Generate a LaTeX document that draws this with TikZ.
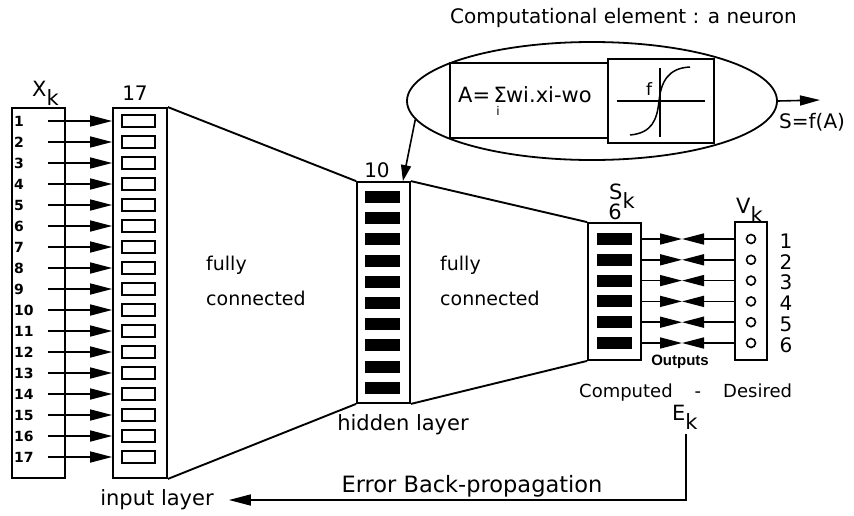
\documentclass[tikz,border=0pt]{standalone}
\usepackage{fontspec}
\setmainfont{DejaVu Sans}
\newfontfamily\narrowbold{Liberation Sans}
\usetikzlibrary{shapes.geometric, arrows.meta, positioning}
\tikzset{
  layer/.style={
    draw, rectangle, inner sep=0pt,
    line width=1.8pt
  },
  opencell/.style={
    draw, rectangle, inner sep=0pt,
    minimum width=33pt, minimum height=12pt,
    line width=1.5pt
  },
  solidcell/.style={
    fill=black, rectangle, inner sep=0pt,
    minimum width=35pt, minimum height=12pt
  },
  ring/.style={draw, circle, minimum size=9pt, inner sep=0pt, line width=1.6pt},
  wire/.style={line width=1.9pt},
  feed/.style={-{Triangle[length=22pt, width=11pt]}, line width=1.6pt},
  tag/.style={inner sep=0pt, font=\fontsize{21}{23}\selectfont},
  rownum/.style={inner sep=0pt, font=\fontsize{14}{16}\selectfont\bfseries}
}
\newcommand{\lowsub}[2]{#1\raisebox{-0.45em}{#2}}

\begin{document}
\begin{tikzpicture}[x=1pt, y=-1pt]
  \useasboundingbox (0,0) rectangle (854,515);

  % Layer columns
  \node[layer, minimum width=53pt, minimum height=370pt] (xk)   at (38.5,293)  {};
  \node[layer, minimum width=54pt, minimum height=370pt] (inl)  at (140,293)   {};
  \node[layer, minimum width=53pt, minimum height=221pt] (hid)  at (383.5,292.5) {};
  \node[layer, minimum width=53pt, minimum height=137pt] (outl) at (614.5,291.5) {};
  \node[layer, minimum width=32pt, minimum height=138pt] (vk)   at (751,291)   {};

  % Input units and their feeds
  \foreach \i in {1,...,17} {
    \pgfmathsetmacro{\yy}{121+21*(\i-1)}
    \node[rownum, anchor=west] (n\i) at (14,\yy) {\i};
    \node[opencell] (c\i) at (138.5,\yy) {};
    \coordinate (s\i) at (48,\yy);
    \draw[feed] (s\i) -- (c\i.west -| inl.west);
  }

  % Hidden units
  \foreach \i in {1,...,10} {
    \node[solidcell] (h\i) at (382.5,{197+21.2*(\i-1)}) {};
  }

  % Output units, desired values, comparison
  \foreach \i in {1,...,6} {
    \pgfmathsetmacro{\yy}{239+20.8*(\i-1)}
    \node[solidcell] (o\i) at (614,\yy) {};
    \node[ring] (v\i) at (751,\yy) {};
    \node[tag, font=\fontsize{20}{22}\selectfont] (vn\i) at (786,\yy+2) {\i};
    \coordinate (m\i) at (682,\yy);
    \draw[feed] (o\i.east -| outl.east) -- (m\i);
    \draw[feed] (v\i.west -| vk.west) -- (m\i);
  }

  % Full connections
  \draw[wire] (inl.north east) -- (hid.north west);
  \draw[wire] (inl.south east) -- (hid.south west);
  \draw[wire] (hid.north east) -- (outl.north west);
  \draw[wire] (hid.south east) -- (outl.south west);

  % Neuron
  \node[draw, ellipse, line width=1.8pt, minimum width=370pt, minimum height=118pt] (cell) at (592,101) {};
  \node[layer, minimum width=158pt, minimum height=75pt] (sumbox) at (529,100.5) {};
  \node[layer, minimum width=106pt, minimum height=84pt] (actbox) at (661,101) {};
  \node[tag, anchor=west] (sumtxt) at (458,101)
    {A=\,Σ\kern-0.5em\raisebox{-0.6em}{\fontsize{12}{12}\selectfont i}\kern0.3em wi.xi-wo};
  \draw[line width=1.5pt] (617,101) -- (705,101);
  \draw[line width=1.5pt] (660,68) -- (660,137);
  \draw[line width=1.5pt] (630,135) .. controls (652,133) and (657,120) .. (659,101)
    .. controls (661,82) and (668,68) .. (690,67);
  \node[tag, font=\fontsize{17}{19}\selectfont] (flbl) at (649,89) {f};
  \coordinate (sout) at (820,100);
  \draw[feed, -{Triangle[length=20pt, width=10pt]}] (cell.east) -- (sout);
  \draw[feed, -{Triangle[length=16pt, width=10pt]}] (cell.186) -- ([xshift=-8pt]hid.north east);

  % Labels
  \node[tag, anchor=west, font=\fontsize{20}{22}\selectfont] (title) at (450,18) {Computational element : a neuron};
  \node[tag, anchor=west, font=\fontsize{20}{22}\selectfont] (sflbl) at (779,122) {S=f(A)};
  \node[tag, anchor=base west] (xklbl) at (32,96) {\lowsub{X}{k}};
  \node[tag, font=\fontsize{20}{22}\selectfont] (n17) at (135,93) {17};
  \node[tag, font=\fontsize{20}{22}\selectfont] (n10) at (377,170) {10};
  \node[tag, anchor=base west] (sklbl) at (609,199) {\lowsub{S}{k}};
  \node[tag] (n6) at (615,212) {6};
  \node[tag, anchor=base west] (vklbl) at (736,213) {\lowsub{V}{k}};
  \node[inner sep=0pt, font=\narrowbold\fontsize{15}{17}\selectfont\bfseries] (outlbl) at (680,362) {Outputs};
  \node[tag, anchor=west, font=\fontsize{18}{20}\selectfont] (cmplbl) at (579,393)
    {Computed\hspace{22pt}-\hspace{22pt}Desired};
  \node[tag, anchor=base west] (eklbl) at (672,420) {\lowsub{E}{k}};
  \node[tag] (hidlbl) at (403,425) {hidden layer};
  \node[tag] (inlbl) at (157,500) {input layer};
  \node[tag, font=\fontsize{22.5}{24}\selectfont] (bplbl) at (472,486) {Error Back-propagation};
  \node[tag, anchor=west, font=\fontsize{19}{21}\selectfont] (fc1a) at (206,265) {fully};
  \node[tag, anchor=west, font=\fontsize{19}{21}\selectfont] (fc1b) at (206,298) {connected};
  \node[tag, anchor=west, font=\fontsize{19}{21}\selectfont] (fc2a) at (440,265) {fully};
  \node[tag, anchor=west, font=\fontsize{19}{21}\selectfont] (fc2b) at (440,298) {connected};

  % Error back-propagation path
  \coordinate (etop) at (686,434);
  \draw[feed] (etop) |- ([xshift=15pt]inlbl.east);
\end{tikzpicture}
\end{document}
